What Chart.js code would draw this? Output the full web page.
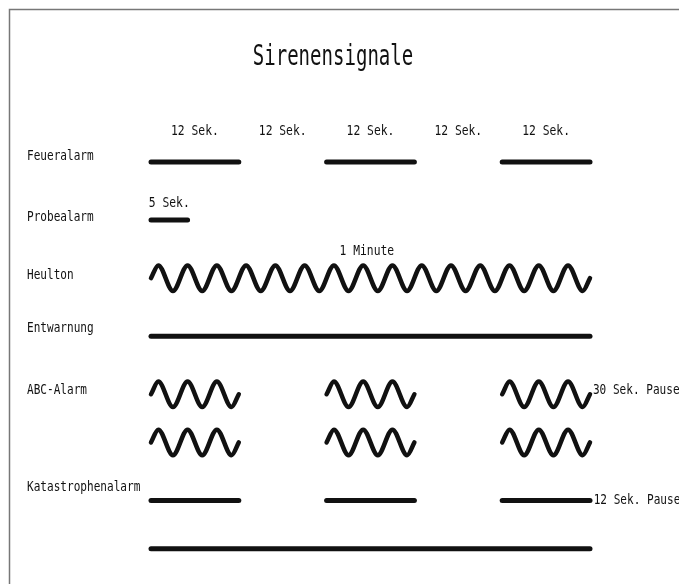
<!DOCTYPE html>
<html>
<head>
<meta charset="utf-8">
<title>Sirenensignale</title>
<script src="https://cdn.jsdelivr.net/npm/chart.js@4"></script>
<style>
  html, body { margin: 0; padding: 0; background: #fff; }
  canvas { display: block; }
</style>
</head>
<body>
<canvas id="chart" width="679" height="584"></canvas>
<script>
// Tonabschnitte in Sekunden: [Start, Ende]
const feueralarm = [[0, 12], [24, 36], [48, 60]];
const probealarm = [[0, 5]];
const heulton = [[0, 60]];
const heultonWellen = [15];
const entwarnung = [[0, 60]];
const abcAlarm = [[0, 12], [24, 36], [48, 60]];
const abcWellen = [3, 3, 3];
const katastrophenalarm = [[0, 12], [24, 36], [48, 60]];
const katastrophenDauerton = [[0, 60]];

// Beschriftungen
const zeilen = ['Feueralarm', 'Probealarm', 'Heulton', 'Entwarnung', 'ABC-Alarm', 'Katastrophenalarm'];
const feuerLabels = ['12 Sek.', '12 Sek.', '12 Sek.', '12 Sek.', '12 Sek.'];
const feuerLabelZeiten = [6, 18, 30, 42, 54];
const probeLabel = '5 Sek.';
const heultonLabel = '1 Minute';
const abcPause = '30 Sek. Pause';
const katPause = '12 Sek. Pause';

// Layout (Zeilenlage auf der y-Achse, nach unten zaehlend)
const zeileY = { feuer: 1, probe: 2, heul: 3, entw: 4, abc1: 5, abc2: 5.83, kat1: 6.83, kat2: 7.66 };
const zeileLabelY = [0.91, 1.96, 2.95, 3.86, 4.94, 6.6];
const amplitude = 0.22;
const schwarz = '#111';

function linie(segs, y) {
    return segs.map(s => ({
        data: [{ x: s[0], y: y }, { x: s[1], y: y }],
        borderColor: schwarz, borderWidth: 5, borderCapStyle: 'round',
        pointRadius: 0, tension: 0, clip: false
    }));
}

// Welle: Mittellage am Anfang/Ende, dazwischen Berg und Tal je Periode
function welle(segs, perioden, y) {
    return segs.map((s, i) => {
        const n = perioden[i];
        const T = (s[1] - s[0]) / n;
        const pts = [{ x: s[0], y: y }];
        for (let k = 0; k < 2 * n; k++) {
            pts.push({ x: s[0] + T / 4 + k * T / 2, y: k % 2 === 0 ? y - amplitude : y + amplitude });
        }
        pts.push({ x: s[1], y: y });
        return {
            data: pts, borderColor: schwarz, borderWidth: 4.5, borderCapStyle: 'round',
            pointRadius: 0, cubicInterpolationMode: 'monotone', clip: false
        };
    });
}

const datasets = [
    ...linie(feueralarm, zeileY.feuer),
    ...linie(probealarm, zeileY.probe),
    ...welle(heulton, heultonWellen, zeileY.heul),
    ...linie(entwarnung, zeileY.entw),
    ...welle(abcAlarm, abcWellen, zeileY.abc1),
    ...welle(abcAlarm, abcWellen, zeileY.abc2),
    ...linie(katastrophenalarm, zeileY.kat1),
    ...linie(katastrophenDauerton, zeileY.kat2)
];

function text(ctx, t, x, y, size, sx, align) {
    ctx.save();
    ctx.font = size + 'px "DejaVu Sans Mono"';
    ctx.fillStyle = schwarz;
    ctx.textAlign = align;
    ctx.textBaseline = 'middle';
    ctx.translate(x, y);
    ctx.scale(sx, 1);
    ctx.fillText(t, 0, 0);
    ctx.restore();
}

const beschriftung = {
    id: 'beschriftung',
    beforeDraw(chart) {
        const ctx = chart.ctx;
        ctx.save();
        ctx.fillStyle = '#fff';
        ctx.fillRect(0, 0, chart.width, chart.height);
        ctx.strokeStyle = '#777';
        ctx.lineWidth = 1.5;
        ctx.beginPath();
        ctx.moveTo(9.5, chart.height);
        ctx.lineTo(9.5, 9.5);
        ctx.lineTo(chart.width, 9.5);
        ctx.stroke();
        ctx.restore();
    },
    afterDraw(chart) {
        const ctx = chart.ctx;
        const xs = chart.scales.x, ys = chart.scales.y;
        const px = v => xs.getPixelForValue(v);
        const py = v => ys.getPixelForValue(v);

        text(ctx, 'Sirenensignale', 333, 58, 28, 0.68, 'center');

        zeilen.forEach((z, i) => text(ctx, z, 27, py(zeileLabelY[i]), 13.5, 0.82, 'left'));

        feuerLabels.forEach((l, i) => text(ctx, l, px(feuerLabelZeiten[i]), py(0.48), 13.5, 0.84, 'center'));
        text(ctx, probeLabel, px(2.5), py(1.72), 13.5, 0.84, 'center');
        text(ctx, heultonLabel, px(29.5), py(2.54), 13.5, 0.84, 'center');
        text(ctx, abcPause, px(60.4), py(4.93), 13.5, 0.82, 'left');
        text(ctx, katPause, px(60.5), py(6.83), 13.5, 0.82, 'left');
    }
};

new Chart(document.getElementById('chart').getContext('2d'), {
    type: 'line',
    data: { datasets: datasets },
    options: {
        responsive: false,
        animation: false,
        events: [],
        layout: { padding: { left: 151, right: 89, top: 104, bottom: 4 } },
        scales: {
            x: { type: 'linear', min: 0, max: 60, display: false },
            y: { type: 'linear', min: 0, max: 8.2, reverse: true, display: false }
        },
        plugins: { legend: { display: false }, title: { display: false }, tooltip: { enabled: false } }
    },
    plugins: [beschriftung]
});
</script>
</body>
</html>
